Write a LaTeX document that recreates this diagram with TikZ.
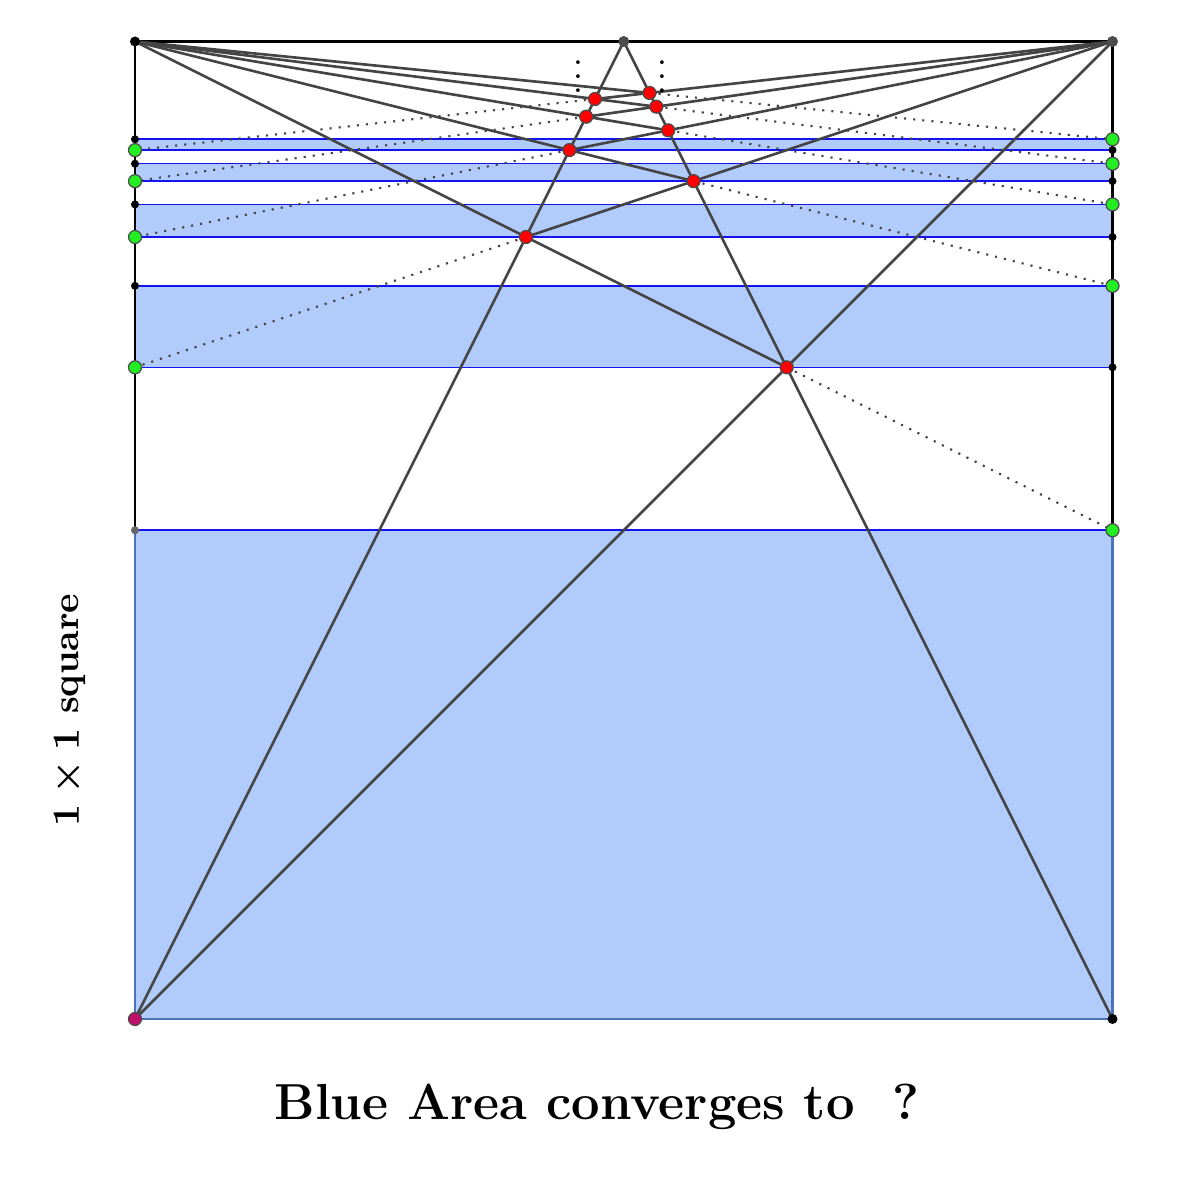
\documentclass[tikz,border=0pt]{standalone}
\usepackage{amsmath}
\definecolor{bandfill}{HTML}{B1CBFB}
\definecolor{hblue}{HTML}{1414F0}
\definecolor{bborder}{HTML}{4C70BA}
\definecolor{lgrey}{HTML}{444444}
\definecolor{gpt}{HTML}{22EE22}
\definecolor{mpt}{HTML}{C0106A}
\tikzset{
 hline/.style={hblue, line width=0.45pt},
 gline/.style={lgrey, line width=0.75pt},
 dline/.style={lgrey, line width=0.6pt, dotted},
 green pt/.style={fill=gpt, draw=black!70, line width=0.35pt},
 red pt/.style={fill=red, draw=black!70, line width=0.35pt},
 blk pt/.style={fill=black},
}
\begin{document}
\begin{tikzpicture}
\useasboundingbox (0,0) rectangle (12,12);
\begin{scope}[shift={(1.35,1.81)},x=9.775cm,y=9.775cm]
\coordinate (BL) at (0,0); \coordinate (BR) at (1,0);
\coordinate (TL) at (0,1); \coordinate (TR) at (1,1);
\coordinate (TM) at (0.5,1); \coordinate (ML) at (0,0.5); \coordinate (MR) at (1,0.5);
\fill[bandfill] (BL) rectangle (MR);
\foreach \k in {1,...,4}
  \fill[bandfill] (0,{2*\k/(2*\k+1)}) rectangle (1,{(2*\k+1)/(2*\k+2)});
\foreach \n in {1,...,9}
  \draw[hline] (0,{\n/(\n+1)}) -- (1,{\n/(\n+1)});
\draw[bborder, line width=0.8pt] (ML) -- (BL) -- (BR) -- (MR);
\draw[black, line width=0.8pt] (ML) -- (TL) -- (TR) -- (MR);
\draw[gline] (BL) -- (TM) -- (BR);
\draw[gline] (BL) -- (TR);
\foreach \j in {1,...,5}{
  \pgfmathsetmacro{\a}{(2*\j-1)/(2*\j)}
  \pgfmathsetmacro{\m}{2*\j-1}
  \pgfmathsetmacro{\ry}{2*\m/(2*\m+1)}
  \pgfmathsetmacro{\rx}{1-\ry/2}
  \coordinate (R\j) at (\rx,\ry);
  \coordinate (G\j) at (1,\a);
  \draw[gline] (TL) -- (R\j);
  \draw[dline] (R\j) -- (G\j);
}
\foreach \i in {1,...,4}{
  \pgfmathsetmacro{\b}{2*\i/(2*\i+1)}
  \pgfmathsetmacro{\ry}{4*\i/(4*\i+1)}
  \pgfmathsetmacro{\rx}{\ry/2}
  \coordinate (S\i) at (\rx,\ry);
  \coordinate (H\i) at (0,\b);
  \draw[gline] (TR) -- (S\i);
  \draw[dline] (S\i) -- (H\i);
}
\foreach \j in {2,...,5}
  \fill[blk pt] (0,{(2*\j-1)/(2*\j)}) circle (0.04cm);
\foreach \i in {1,...,4}
  \fill[blk pt] (1,{2*\i/(2*\i+1)}) circle (0.04cm);
\fill[black!60] (ML) circle (0.04cm);
\foreach \j in {1,...,5} \filldraw[green pt] (G\j) circle (0.065cm);
\foreach \i in {1,...,4} \filldraw[green pt] (H\i) circle (0.065cm);
\foreach \j in {1,...,5} \filldraw[red pt] (R\j) circle (0.065cm);
\foreach \i in {1,...,4} \filldraw[red pt] (S\i) circle (0.065cm);
\fill[black] (TL) circle (0.05cm);
\fill[black!70] (TR) circle (0.055cm);
\fill[black!70] (TM) circle (0.055cm);
\fill[black] (BR) circle (0.05cm);
\filldraw[fill=mpt, draw=black!70, line width=0.35pt] (BL) circle (0.065cm);
\end{scope}
\node[inner sep=0pt] (d1) at (5.78,11.34) {$\vdots$};
\node[inner sep=0pt] (d2) at (6.62,11.34) {$\vdots$};
\node[rotate=90, font=\fontsize{10.5}{12}\selectfont\bfseries] (side) at (0.70,4.90) {$\boldsymbol{1\times 1}$ square};
\node[font=\fontsize{14.4}{17}\selectfont\bfseries] (title) at (5.97,0.93) {Blue Area converges to\ \ ?};
\end{tikzpicture}
\end{document}
